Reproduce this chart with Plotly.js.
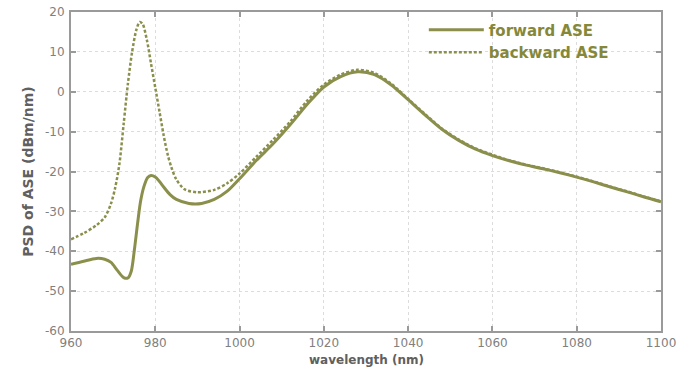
<!DOCTYPE html>
<html>
<head>
<meta charset="utf-8">
<script src="https://cdn.plot.ly/plotly-3.0.1.min.js"></script>
<style>html,body{margin:0;padding:0;background:#fff;}#chart{width:694px;height:369px;}</style>
</head>
<body>
<div id="chart"></div>
<script>
// Forward ASE
const fwdWavelength = [960, 963, 966, 968, 969.5, 971, 972.5, 973.5, 974.3, 975, 975.8, 976.5, 977.3, 978.2, 979, 980, 981, 982, 983.5, 985, 988, 991, 994, 997, 1000, 1004, 1008, 1012, 1016, 1020, 1024, 1028, 1032, 1036, 1040, 1044, 1048, 1052, 1056, 1060, 1064, 1068, 1072, 1076, 1080, 1084, 1088, 1092, 1096, 1100];
const fwdPSD = [-43.3, -42.5, -41.8, -42, -42.8, -44.8, -46.6, -46.7, -45, -40, -33, -27.5, -23.8, -21.5, -21, -21.4, -22.5, -23.9, -25.8, -27, -28, -28, -27, -25, -21.8, -17.2, -13, -8.3, -3.2, 1.2, 3.8, 5.0, 4.3, 1.7, -2, -5.8, -9.4, -12.2, -14.4, -16, -17.3, -18.4, -19.3, -20.3, -21.4, -22.6, -23.9, -25.1, -26.4, -27.6];

// Backward ASE
const bwdWavelength = [960, 963, 966, 968, 969.5, 970.5, 971.5, 972.5, 973.5, 974.5, 975.5, 976.3, 977, 978, 979, 980, 981, 982, 983, 984, 985, 987, 990, 994, 997, 1000, 1004, 1008, 1012, 1016, 1020, 1024, 1028, 1032, 1036, 1040, 1044, 1048, 1052, 1056, 1060, 1064, 1068, 1072, 1076, 1080, 1084, 1088, 1092, 1096, 1100];
const bwdPSD = [-37, -35.5, -33.5, -31.5, -28, -24, -18, -8, 2, 10, 15.5, 17.5, 17, 13, 7, 1, -5, -11, -16, -19.5, -22, -24.5, -25.2, -24.6, -23, -20.5, -16.3, -12, -7.5, -2.3, 1.8, 4.3, 5.5, 4.7, 2, -1.8, -5.6, -9.2, -12, -14.2, -15.8, -17.2, -18.3, -19.2, -20.2, -21.3, -22.5, -23.8, -25, -26.3, -27.5];

const seriesNames = ['forward ASE', 'backward ASE'];
const xTickVals = [960, 980, 1000, 1020, 1040, 1060, 1080, 1100];
const yTickVals = [-60, -50, -40, -30, -20, -10, 0, 10, 20];
const xTitle = 'wavelength (nm)';
const yTitle = 'PSD of ASE (dBm/nm)';

const lineColor = '#8b8f4c';

const traces = [
  {x: fwdWavelength, y: fwdPSD, name: seriesNames[0], type: 'scatter', mode: 'lines',
   line: {color: lineColor, width: 3, shape: 'spline', smoothing: 0.8}},
  {x: bwdWavelength, y: bwdPSD, name: seriesNames[1], type: 'scatter', mode: 'lines',
   line: {color: lineColor, width: 2.5, dash: '3px,2px', shape: 'spline', smoothing: 0.8}}
];

const axisCommon = {
  showline: true, linecolor: '#9a9a9a', linewidth: 2, mirror: 'ticks',
  ticks: 'inside', ticklen: 5, tickcolor: '#9a9a9a', tickwidth: 2,
  showgrid: true, gridcolor: '#dcdcdc', griddash: 'dot', gridwidth: 1,
  zeroline: false,
  tickfont: {family: 'DejaVu Sans', size: 12, color: '#808080'}
};

const layout = {
  width: 694, height: 369,
  margin: {l: 71, r: 33, t: 12, b: 38},
  paper_bgcolor: '#ffffff', plot_bgcolor: '#ffffff',
  showlegend: true,
  legend: {
    x: 0.598, xanchor: 'left', y: 0.995, yanchor: 'top',
    bgcolor: 'rgba(255,255,255,0)', borderwidth: 0,
    itemwidth: 55,
    font: {family: 'DejaVu Sans', size: 15, color: '#85883a', weight: 'bold'}
  },
  xaxis: Object.assign({}, axisCommon, {
    range: [960, 1100], tickvals: xTickVals, ticktext: xTickVals.map(String),
    ticklabelstandoff: 0
  }),
  yaxis: Object.assign({}, axisCommon, {
    range: [-60, 20], tickvals: yTickVals, ticktext: yTickVals.map(String),
    ticklabelstandoff: 2,
    title: {text: yTitle, standoff: 8,
            font: {family: 'DejaVu Sans', size: 14, color: '#606060', weight: 'bold'}}
  }),
  annotations: [{
    text: xTitle, xref: 'paper', yref: 'paper', x: 0.5, y: -0.119,
    xanchor: 'center', yanchor: 'bottom', showarrow: false,
    font: {family: 'DejaVu Sans', size: 12, color: '#606060', weight: 'bold'}
  }]
};

Plotly.newPlot('chart', traces, layout, {displayModeBar: false, staticPlot: true});
</script>
</body>
</html>
